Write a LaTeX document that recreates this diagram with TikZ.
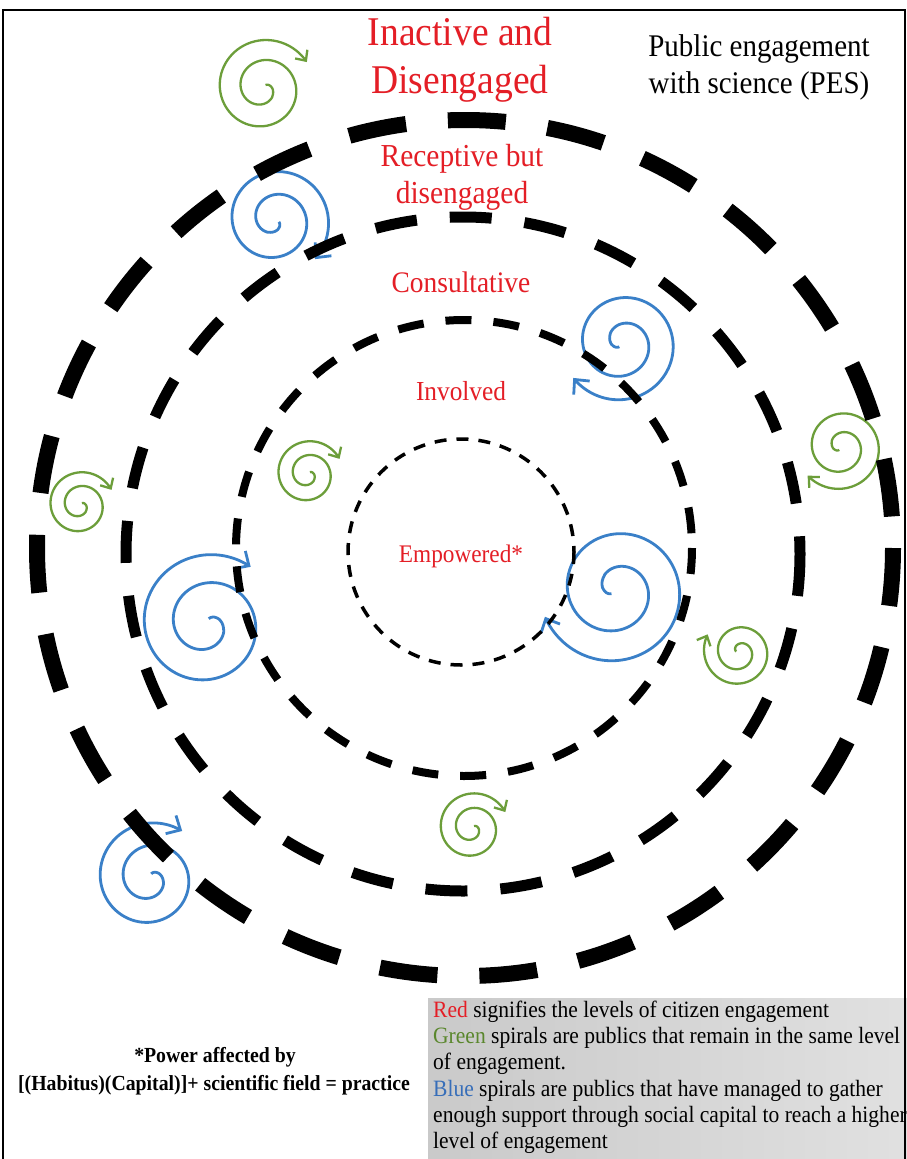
\documentclass[tikz,border=0pt]{standalone}
\usepackage{fontspec}
\setmainfont{Liberation Serif}[FakeStretch=0.92]
\usetikzlibrary{arrows.meta}

\definecolor{pesred}{RGB}{228,30,38}
\definecolor{pesgreen}{RGB}{108,158,58}
\definecolor{pesblue}{RGB}{58,128,200}
\definecolor{legendgreen}{RGB}{90,135,45}
\definecolor{legendblue}{RGB}{55,110,185}

% clockwise spiral: #1 style, #2/#3 centre, #4 outer radius, #5 end angle, #6 total sweep
\newcommand{\pesspiral}[6]{%
  \draw[#1] plot[domain=0.002:1, samples=160, smooth, variable=\t]
    ({#2 + (#4*(0.07+0.93*(\t)^0.8))*cos(#5 + #6*(1-\t))},
     {#3 - (#4*(0.07+0.93*(\t)^0.8))*sin(#5 + #6*(1-\t))});
}

\begin{document}
\begin{tikzpicture}[x=1pt, y=-1pt,
  ringouter/.style={line width=16pt, dash pattern=on 58pt off 42pt},
  ringthird/.style={line width=11pt, dash pattern=on 42pt off 33pt},
  ringsecond/.style={line width=8pt, dash pattern=on 26pt off 22pt},
  ringinner/.style={line width=3.5pt, dash pattern=on 12pt off 10pt},
  greenspiral/.style={pesgreen, line width=2.3pt, -{Straight Barb[length=8pt,width=15pt]}},
  bluespiral/.style={pesblue, line width=2.8pt, -{Straight Barb[length=11pt,width=21pt]}},
  level/.style={text=pesred, anchor=base, inner sep=0pt},
  legendline/.style={anchor=base west, inner sep=0pt, font=\fontsize{23.4}{26}\selectfont},
  formula/.style={anchor=base, inner sep=0pt, font=\bfseries\fontsize{21.5}{26}\selectfont}]

\useasboundingbox (0,0) rectangle (907,1159);
\fill[white] (0,0) rectangle (907,1159);

% legend panel
\fill[left color=black!21, right color=black!12] (428,998) rectangle (907,1159);

% spirals: publics staying at a level (green) and moving up (blue)
\pesspiral{greenspiral}{263}{88}{51}{30}{740}
\pesspiral{greenspiral}{841}{447}{44}{220}{740}
\pesspiral{greenspiral}{80}{505}{35}{25}{740}
\pesspiral{greenspiral}{308}{474}{35}{25}{740}
\pesspiral{greenspiral}{739}{652}{36}{150}{740}
\pesspiral{greenspiral}{472}{828}{37}{25}{740}

\pesspiral{bluespiral}{275}{220}{56}{-45}{740}
\pesspiral{bluespiral}{622}{343}{60}{215}{740}
\pesspiral{bluespiral}{616}{590}{76}{200}{740}
\pesspiral{bluespiral}{207}{624}{72}{52}{740}
\pesspiral{bluespiral}{150}{878}{57}{55}{740}

% engagement levels
\draw[ringouter]  (465,548) circle[radius=428];
\draw[ringthird]  (463,554) circle[radius=337];
\draw[ringsecond] (464,548) circle[radius=228];
\draw[ringinner]  (461,552) circle[radius=113];

% level names
\node[level, font=\fontsize{40.8}{48}\selectfont] (inactive1) at (460,45) {Inactive and};
\node[level, font=\fontsize{40.8}{48}\selectfont] (inactive2) at (460,93) {Disengaged};
\node[level, font=\fontsize{32}{38}\selectfont] (receptive1) at (462,166) {Receptive but};
\node[level, font=\fontsize{32}{38}\selectfont] (receptive2) at (462,203) {disengaged};
\node[level, font=\fontsize{29.8}{36}\selectfont] (consult) at (461,292) {Consultative};
\node[level, font=\fontsize{27.5}{33}\selectfont] (involved) at (461,400) {Involved};
\node[level, font=\fontsize{25.3}{30}\selectfont] (empowered) at (461,562) {Empowered*};

% heading
\node[anchor=base, inner sep=0pt, font=\fontsize{31.5}{38}\selectfont] (pes1) at (759,56) {Public engagement};
\node[anchor=base, inner sep=0pt, font=\fontsize{31.5}{38}\selectfont] (pes2) at (759,93) {with science (PES)};

% footnote
\node[formula] (power1) at (215,1062) {*Power affected by};
\node[formula] (power2) at (214,1090) {[(Habitus)(Capital)]+ scientific field = practice};

% legend
\node[legendline] (leg1) at (433,1017) {\textcolor{pesred}{Red} signifies the levels of citizen engagement};
\node[legendline] (leg2) at (433,1043) {\textcolor{legendgreen}{Green} spirals are publics that remain in the same level};
\node[legendline] (leg3) at (433,1069) {of engagement.};
\node[legendline] (leg4) at (433,1096) {\textcolor{legendblue}{Blue} spirals are publics that have managed to gather};
\node[legendline] (leg5) at (433,1122) {enough support through social capital to reach a higher};
\node[legendline] (leg6) at (433,1148) {level of engagement};

% frame
\draw[line width=2pt] (3,1170) -- (3,10) -- (905,10) -- (905,1170);
\end{tikzpicture}
\end{document}
